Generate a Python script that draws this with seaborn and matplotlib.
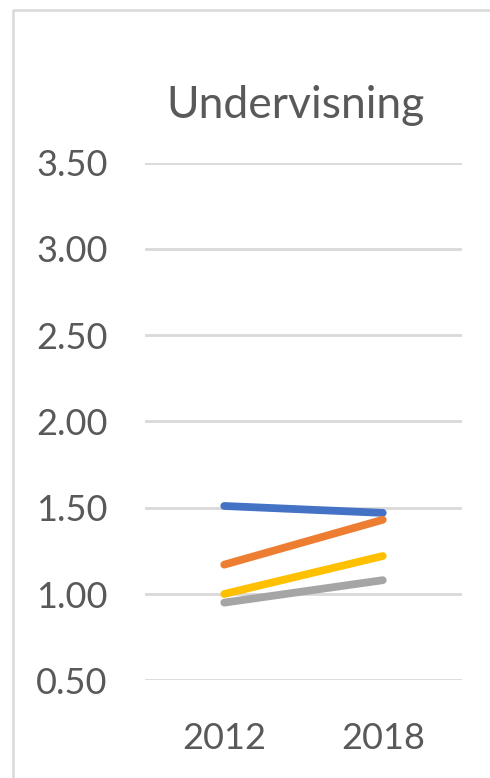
import matplotlib
matplotlib.use("Agg")
import matplotlib.pyplot as plt
from matplotlib.lines import Line2D
import pandas as pd
import seaborn as sns

# Chart data
years = ["2012", "2018"]
series_names = ["Serie 1", "Serie 2", "Serie 3", "Serie 4"]
serie_1 = [1.51, 1.47]
serie_2 = [1.17, 1.43]
serie_3 = [1.00, 1.22]
serie_4 = [0.95, 1.08]
y_ticks = [0.5, 1.0, 1.5, 2.0, 2.5, 3.0, 3.5]
title = "Undervisning"
colors = ["#4472C4", "#ED7D31", "#FFC000", "#A5A5A5"]

rows = []
for name, vals in zip(series_names, [serie_1, serie_2, serie_3, serie_4]):
    for yr, v in zip(years, vals):
        rows.append({"year": yr, "value": v, "series": name})
df = pd.DataFrame(rows)

sns.set_theme(style="white")
plt.rcParams["font.family"] = ["Lato", "DejaVu Sans"]
text_color = "#595959"

W, H = 490, 778
fig = plt.figure(figsize=(W / 100, H / 100), dpi=100)
ax = fig.add_axes([145 / W, (H - 680.3) / H, 317 / W, 517.8 / H])

ax.set_axisbelow(True)
for t in y_ticks:
    ax.axhline(t, color="#D9D9D9", lw=2.0, zorder=0)

sns.lineplot(data=df, x="year", y="value", hue="series", palette=colors,
             lw=5.6, legend=False, ax=ax, sort=False,
             solid_capstyle="round")

ax.set_xlim(-0.5, 1.5)
ax.set_ylim(0.5, 3.5)
ax.set_yticks(y_ticks)
ax.set_yticklabels([f"{t:.2f}" for t in y_ticks])
ax.tick_params(axis="y", length=0, pad=27, labelsize=26, labelcolor=text_color)
ax.tick_params(axis="x", length=0, pad=30, labelsize=26, labelcolor=text_color)
ax.set_xlabel("")
ax.set_ylabel("")
for s in ax.spines.values():
    s.set_visible(False)
ax.grid(False)

fig.text(295 / W, (H - 118) / H, title, ha="center", va="baseline",
         fontsize=32, color=text_color)

# Chart frame (left and top edges)
fig.add_artist(Line2D([13 / W, 13 / W, 1.0], [0.0, (H - 10) / H, (H - 10) / H],
                      transform=fig.transFigure, color="#D9D9D9", lw=1.8))

fig.savefig("out.png", dpi=100)
